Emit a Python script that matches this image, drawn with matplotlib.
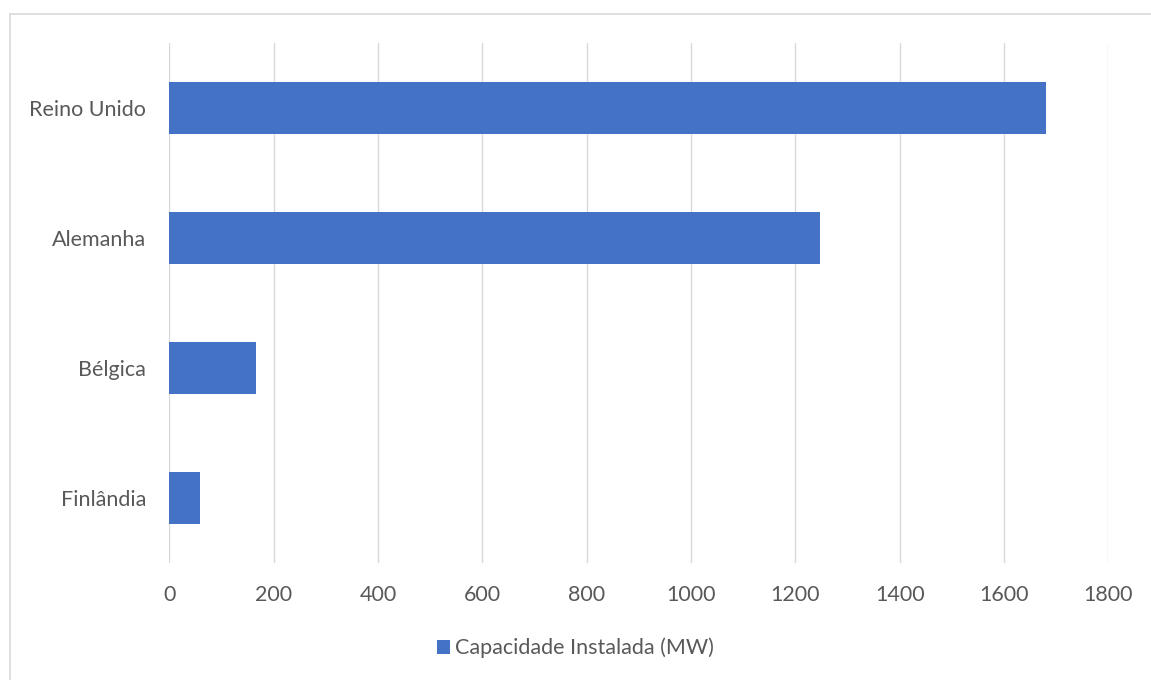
import matplotlib
matplotlib.use("Agg")
import matplotlib.pyplot as plt
from matplotlib.lines import Line2D

categories = ["Finlândia", "Bélgica", "Alemanha", "Reino Unido"]
values = [59, 165, 1248, 1680]
series_name = "Capacidade Instalada (MW)"
xticks = [0, 200, 400, 600, 800, 1000, 1200, 1400, 1600, 1800]

plt.rcParams['font.family'] = ['Lato', 'DejaVu Sans']

W, H = 1151, 680
fig = plt.figure(figsize=(W/100, H/100), dpi=100)
fig.patch.set_facecolor("white")

# outer chart border (only top and left visible; extends beyond the image)
fig.add_artist(Line2D([9.5/W, 1.0], [1-13.5/H, 1-13.5/H], transform=fig.transFigure,
                      color="#d9d9d9", linewidth=1.2))
fig.add_artist(Line2D([9.5/W, 9.5/W], [1-13.5/H, 0.0], transform=fig.transFigure,
                      color="#d9d9d9", linewidth=1.2))

ax = fig.add_axes([169.5/W, 1-563/H, (1108.3-169.5)/W, (563-43)/H])
ypos = list(range(len(categories)))
ax.barh(ypos, values, height=0.4, color="#4472C4", label=series_name, zorder=3)
ax.set_xlim(0, 1800)
ax.set_ylim(-0.5, 3.5)
ax.set_xticks(xticks)
ax.set_xticklabels([str(t) for t in xticks])
ax.set_yticks(ypos)
ax.set_yticklabels(categories)
ax.grid(axis="x", color="#d9d9d9", linewidth=1.0, zorder=0)
for s in ax.spines.values():
    s.set_visible(False)
ax.tick_params(axis="both", length=0, labelsize=15.5, colors="#595959")
ax.tick_params(axis="x", pad=16)
ax.tick_params(axis="y", pad=17)

fig.legend(loc="center", bbox_to_anchor=(0.5, 1-648/H), frameon=False, fontsize=15.5,
           handlelength=0.6, handleheight=0.6, handletextpad=0.2, labelcolor="#595959")

fig.savefig("out.png", dpi=100, facecolor="white")
